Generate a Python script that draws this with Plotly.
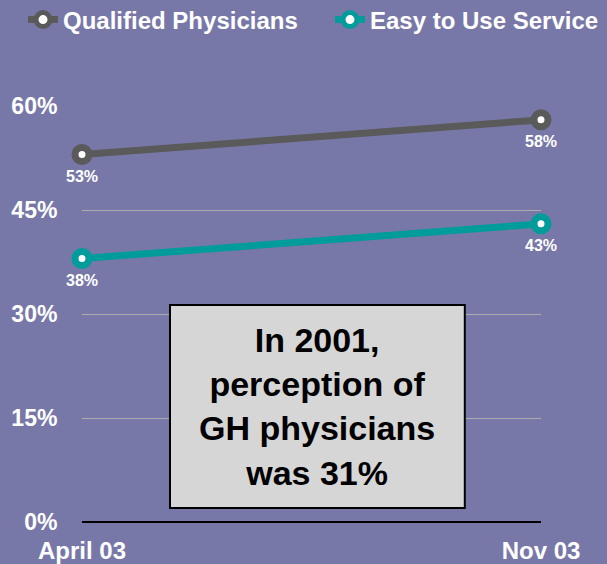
import plotly.graph_objects as go

periods = ["April 03", "Nov 03"]
qualified = [53, 58]
easy = [38, 43]
y_ticks = [0, 15, 30, 45, 60]
y_tick_labels = ["0%", "15%", "30%", "45%", "60%"]
note_text = "In 2001,<br>perception of<br>GH physicians<br>was 31%"

BG = "#7878A8"
FONT = "Liberation Sans, Arial, sans-serif"
x_pos = list(range(len(periods)))

fig = go.Figure()
series = [("Qualified Physicians", qualified, "#5A5A5A", "legend"),
          ("Easy to Use Service", easy, "#009C9C", "legend2")]
for name, vals, col, lg in series:
    fig.add_trace(go.Scatter(
        x=x_pos, y=vals, name=name, mode="lines+markers",
        line=dict(color=col, width=7),
        marker=dict(size=14, color="white", line=dict(color=col, width=7)),
        cliponaxis=False, legend=lg,
    ))
    for xv, v in zip(x_pos, vals):
        fig.add_annotation(x=xv, y=v, text=f"{v}%", showarrow=False,
                           xanchor="center", yanchor="middle", yshift=-22,
                           font=dict(color="white", size=16, family=FONT, weight="bold"))

fig.add_shape(type="rect", xref="paper", yref="paper",
              x0=0.1917, x1=0.834, y0=0.0337, y1=0.5216,
              fillcolor="#D6D6D6", line=dict(color="black", width=2), layer="above")
fig.add_annotation(xref="paper", yref="paper", x=0.5127, y=0.2776,
                   xanchor="center", yanchor="middle",
                   text=note_text, showarrow=False,
                   font=dict(size=34, color="black", family=FONT, weight="bold"),
                   align="center")

legend_common = dict(orientation="h", yanchor="middle", xanchor="left", y=1.2067,
                     font=dict(size=24, color="white", family=FONT, weight="bold"),
                     bgcolor="rgba(0,0,0,0)", itemwidth=30)

fig.update_layout(
    width=607, height=564,
    paper_bgcolor=BG, plot_bgcolor=BG,
    margin=dict(l=82, r=66, t=106, b=42, autoexpand=False),
    font=dict(family=FONT, color="white"),
    showlegend=True,
    legend=dict(x=-0.1285, **legend_common),
    legend2=dict(x=0.5403, **legend_common),
    xaxis=dict(range=[0, 1], tickvals=x_pos, ticktext=periods, showgrid=False,
               zeroline=False, showline=False, ticks="outside", ticklen=7,
               tickcolor="rgba(0,0,0,0)",
               tickfont=dict(size=24, color="white", family=FONT, weight="bold")),
    yaxis=dict(range=[0, 60], tickvals=y_ticks, ticktext=y_tick_labels,
               showgrid=True, gridcolor="#ADADAD", gridwidth=1,
               zeroline=True, zerolinecolor="black", zerolinewidth=2,
               showline=False, ticks="outside", ticklen=19, tickcolor="rgba(0,0,0,0)",
               tickfont=dict(size=23, color="white", family=FONT, weight="bold")),
)

fig.write_html("out.html", config={"displayModeBar": False},
               post_script="document.body.style.margin='0';document.body.style.overflow='hidden';")
